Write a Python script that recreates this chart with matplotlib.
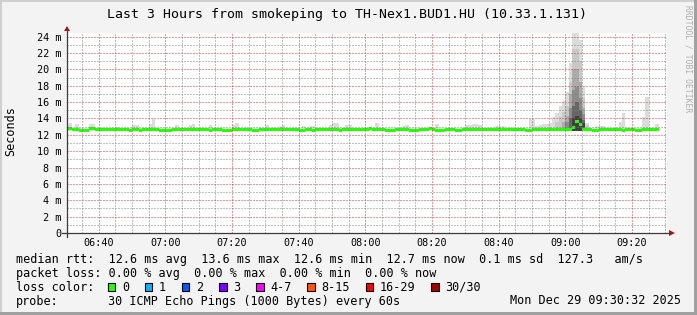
import numpy as np
import matplotlib
matplotlib.use("Agg")
from matplotlib import pyplot as plt
from matplotlib.patches import Rectangle, Polygon

W, H = 697, 315
MONO = "DejaVu Sans Mono"

"""
Data read off the graph
"""
# x axis: minutes after 06:30, graph spans 06:30:32 .. 09:30:32
t_start, t_end = 0.533, 180.533
tick_minutes = [10, 30, 50, 70, 90, 110, 130, 150, 170]
tick_labels = ["06:40", "07:00", "07:20", "07:40", "08:00",
               "08:20", "08:40", "09:00", "09:20"]
y_ticks = list(range(0, 25, 2))

# median rtt (ms), one value per minute, value m covers minute (m-1, m]
median_rtt = [
    12.75, 12.75, 12.6, 12.6, 12.5, 12.5, 12.5, 12.75, 12.75, 12.6,
    12.6, 12.6, 12.6, 12.6, 12.6, 12.6, 12.6, 12.6, 12.6, 12.5,
    12.6, 12.6, 12.5, 12.6, 12.6, 12.6, 12.6, 12.6, 12.5, 12.5,
    12.5, 12.5, 12.6, 12.6, 12.6, 12.6, 12.6, 12.6, 12.6, 12.6,
    12.6, 12.6, 12.6, 12.5, 12.6, 12.6, 12.6, 12.5, 12.5, 12.5,
    12.6, 12.6, 12.6, 12.6, 12.6, 12.6, 12.5, 12.5, 12.6, 12.6,
    12.6, 12.6, 12.6, 12.6, 12.6, 12.6, 12.6, 12.6, 12.6, 12.6,
    12.5, 12.5, 12.6, 12.6, 12.5, 12.6, 12.6, 12.6, 12.6, 12.6,
    12.6, 12.6, 12.5, 12.6, 12.6, 12.6, 12.6, 12.6, 12.6, 12.6,
    12.6, 12.75, 12.6, 12.6, 12.6, 12.6, 12.5, 12.5, 12.5, 12.6,
    12.6, 12.6, 12.6, 12.5, 12.5, 12.5, 12.6, 12.6, 12.6, 12.75,
    12.6, 12.5, 12.5, 12.5, 12.6, 12.6, 12.6, 12.5, 12.5, 12.6,
    12.6, 12.6, 12.6, 12.6, 12.6, 12.6, 12.6, 12.6, 12.6, 12.6,
    12.6, 12.6, 12.6, 12.6, 12.6, 12.6, 12.6, 12.6, 12.5, 12.5,
    12.6, 12.6, 12.6, 12.6, 12.6, 12.6, 12.6, 12.6, 12.6, 12.6,
    12.6, 12.6, 12.95, 13.6, 13.3, 12.6, 12.6, 12.6, 12.5, 12.5,
    12.6, 12.6, 12.6, 12.6, 12.6, 12.6, 12.6, 12.5, 12.6, 12.6,
    12.6, 12.5, 12.5, 12.6, 12.6, 12.6, 12.6, 12.6,
]

# smoke (spread of the 30 pings): lower edge and upper edges per layer
smoke_lo = 12.45
smoke_default_top = 12.8
smoke_minutes = [1, 2, 4, 8, 9, 16, 21, 22, 26, 27, 34, 38, 39, 44, 51, 52,
                 61, 65, 66, 72, 74, 75, 80, 81, 82, 85, 86, 94, 102, 103,
                 112, 121, 122, 123, 124, 125, 130, 131, 132, 140, 141, 142,
                 143, 144, 145, 146, 147, 148, 149, 150, 151, 152, 153, 154,
                 155, 156, 157, 160, 161, 162, 167, 168, 174, 175, 178]
smoke_top = [13.2, 13.5, 13.3, 13.3, 13.3, 13.0, 13.2, 13.2, 13.3, 13.9,
             13.2, 13.2, 13.35, 13.2, 13.2, 13.5, 13.2, 13.1, 13.2, 13.1,
             13.1, 13.1, 13.2, 13.5, 13.5, 13.2, 13.2, 13.5, 13.1, 13.2,
             13.3, 13.2, 13.2, 13.3, 13.3, 13.2, 13.1, 13.1, 13.1, 13.9,
             13.9, 13.1, 13.2, 13.3, 13.3, 13.5, 14.2, 14.7, 15.5, 16.1,
             17.2, 20.8, 24.45, 24.45, 23.6, 17.9, 13.5, 13.1, 13.1, 13.1,
             13.6, 14.7, 14.2, 16.6, 13.3]

spike_layers = [
    # (minutes, upper edges), outer -> inner
    ([148, 149, 150, 151, 152, 153, 154, 155, 156, 157],
     [13.6, 14.2, 14.8, 15.5, 18.5, 22.5, 22.5, 21.0, 16.5, 13.2]),
    ([150, 151, 152, 153, 154, 155, 156],
     [13.6, 14.3, 17.0, 20.0, 20.0, 18.5, 15.3]),
    ([151, 152, 153, 154, 155, 156],
     [13.6, 15.3, 17.5, 17.8, 16.5, 14.5]),
    ([152, 153, 154, 155, 156],
     [14.0, 15.5, 16.0, 15.0, 13.8]),
    ([153, 154, 155, 156],
     [14.0, 14.3, 14.0, 13.4]),
]
smoke_colors = ["#dcdcdc", "#c8c8c8", "#ababab", "#8c8c8c", "#666666", "#404040"]

# legend texts
stat_names = ["avg", "max", "min", "now"]
rtt_stats = ["12.6", "13.6", "12.6", "12.7"]
rtt_sd = "0.1"
rtt_ams = "127.3"
loss_stats = ["0.00", "0.00", "0.00", "0.00"]
loss_labels = ["0", "1", "2", "3", "4-7", "8-15", "16-29", "30/30"]
loss_colors = ["#26ff00", "#00b8ff", "#0059ff", "#7e00ff",
               "#ff00ff", "#ff5500", "#ff0000", "#a00000"]
probe_text = "30 ICMP Echo Pings (1000 Bytes) every 60s"
date_text = "Mon Dec 29 09:30:32 2025"
title = "Last 3 Hours from smokeping to TH-Nex1.BUD1.HU (10.33.1.131)"

"""
Plotting
"""
n = len(median_rtt)
edges = np.arange(n + 1)


def per_minute(default, minutes, values):
    arr = np.full(n, default, dtype=float)
    for m, v in zip(minutes, values):
        arr[m - 1] = v
    return np.append(arr, arr[-1])


fig = plt.figure(figsize=(W / 100, H / 100), dpi=100)
fig.patch.set_facecolor("#f3f3f3")

p_left, p_right, p_top, p_bottom = 67, 667, 33, 233
ax = fig.add_axes([p_left / W, 1 - p_bottom / H,
                   (p_right - p_left) / W, (p_bottom - p_top) / H])
ax.set_facecolor("white")
ax.set_xlim(t_start, t_end)
ax.set_ylim(0, 24.45)

lo = np.full(n + 1, smoke_lo)
ax.fill_between(edges, lo, per_minute(smoke_default_top, smoke_minutes, smoke_top),
                step="post", color=smoke_colors[0], lw=0, zorder=1)
for i, (mins, tops) in enumerate(spike_layers):
    ax.fill_between(edges, lo, per_minute(smoke_lo, mins, tops),
                    step="post", color=smoke_colors[i + 1], lw=0, zorder=1)

med = np.append(median_rtt, median_rtt[-1])
half = 0.18
ax.fill_between(edges, med - half, med + half, step="post",
                color="#26ff00", lw=0, zorder=2)

# grid on top, rrdtool style
ax.set_xticks(tick_minutes)
ax.set_xticklabels(tick_labels, fontfamily=MONO, fontsize=7.3)
ax.set_xticks(np.arange(5, 181, 5), minor=True)
ax.set_yticks(y_ticks)
ax.set_yticklabels(["0" if v == 0 else f"{v} m" for v in y_ticks],
                   fontfamily=MONO, fontsize=7.3)
ax.set_yticks(np.arange(1, 25, 1), minor=True)
ax.set_axisbelow(False)
ax.grid(which="minor", color=(0.5, 0.5, 0.5, 0.4), lw=0.72, ls=(0, (1, 2)))
ax.grid(which="major", color=(0.85, 0.2, 0.2, 0.45), lw=0.72, ls=(0, (1, 2)))
ax.tick_params(axis="both", which="both", length=0)
ax.tick_params(axis="x", pad=3.5)
ax.tick_params(axis="y", pad=4.3)
for s in ax.spines.values():
    s.set_visible(False)

# overlay in pixel coordinates for axes, frame, texts
ov = fig.add_axes([0, 0, 1, 1], facecolor="none")
ov.set_xlim(0, W)
ov.set_ylim(H, 0)
ov.axis("off")

axis_col = "#3a3a3a"
arrow_col = "#a01818"
ov.plot([67, 67], [31, 237], color=axis_col, lw=0.9)
ov.plot([62, 669], [233, 233], color=axis_col, lw=0.9)
ov.add_patch(Polygon([(67, 26), (64, 31), (70, 31)], closed=True,
                     color=arrow_col, lw=0))
ov.add_patch(Polygon([(675, 233), (669, 230), (669, 236)], closed=True,
                     color=arrow_col, lw=0))

# frame
ov.add_patch(Rectangle((0, 0), W, 2, color="#cfcfcf", lw=0))
ov.add_patch(Rectangle((0, 0), 2, H, color="#cfcfcf", lw=0))
ov.add_patch(Rectangle((W - 3, 0), 3, H, color="#a0a0a0", lw=0))
ov.add_patch(Rectangle((0, H - 3), W, 3, color="#a0a0a0", lw=0))

ov.text(347, 18.3, title, family=MONO, fontsize=9.55, ha="center", va="baseline")
ov.text(10.5, 131.5, "Seconds", family=MONO, fontsize=8.5, rotation=90,
        ha="center", va="center")
ov.text(688, 5, "RRDTOOL / TOBI OETIKER", family=MONO, fontsize=5.8,
        rotation=270, ha="center", va="top", color="#b0b0b0")

cw = 7.1
x0 = 15.5
rows = [263, 277, 291, 304.5]
line1 = "median rtt:  " + "  ".join(f"{v} ms {k}" for v, k in zip(rtt_stats, stat_names)) \
    + f"  {rtt_sd} ms sd  {rtt_ams}   am/s"
line2 = "packet loss: " + "  ".join(f"{v} % {k}" for v, k in zip(loss_stats, stat_names))
ov.text(x0, rows[0], line1, family=MONO, fontsize=8.5, va="baseline")
ov.text(x0, rows[1], line2, family=MONO, fontsize=8.5, va="baseline")
ov.text(x0, rows[2], "loss color:", family=MONO, fontsize=8.5, va="baseline")
bx = x0 + 13 * cw
for lab, col in zip(loss_labels, loss_colors):
    ov.add_patch(Rectangle((bx, rows[2] - 8), 7.5, 7.5, facecolor=col,
                           edgecolor="black", lw=0.8))
    ov.text(bx + 2 * cw, rows[2], lab, family=MONO, fontsize=8.5, va="baseline")
    bx += 2 * cw + len(lab) * cw + 15.8
ov.text(x0, rows[3], "probe:", family=MONO, fontsize=8.5, va="baseline")
ov.text(x0 + 13 * cw, rows[3], probe_text, family=MONO, fontsize=8.5, va="baseline")
ov.text(681, rows[3], date_text, family=MONO, fontsize=8.5, va="baseline", ha="right")

fig.savefig("out.png", dpi=100, facecolor=fig.get_facecolor())
